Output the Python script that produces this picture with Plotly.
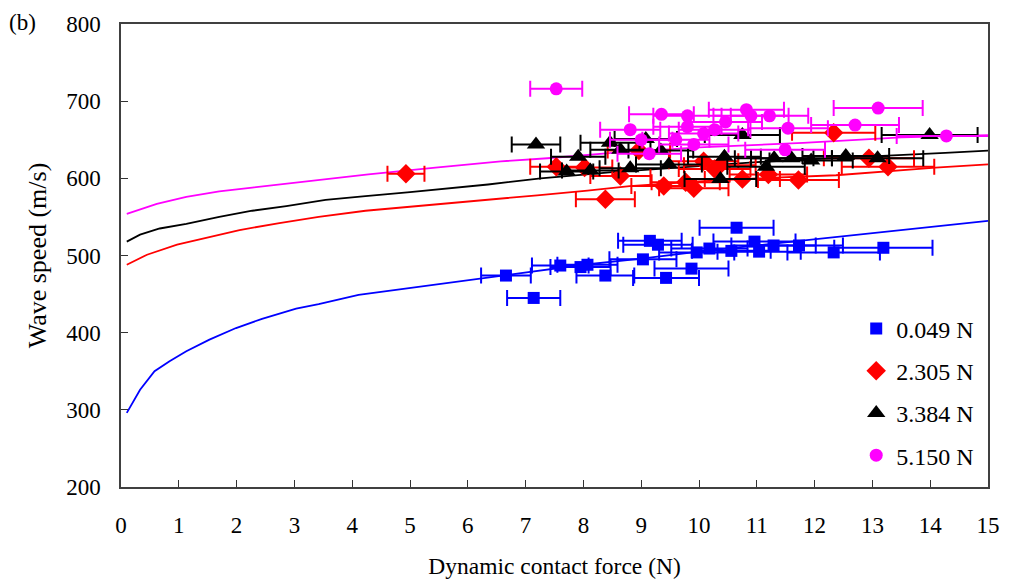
import plotly.graph_objects as go

# ---- measured data (F in N, v in m/s, horizontal error half-width in N) ----
blue_F = [6.66, 7.14, 7.60, 7.95, 8.07, 8.38, 9.15, 9.03, 9.29, 9.43, 9.87, 9.96, 10.18, 10.65, 10.56, 10.96, 11.04, 11.29, 11.73, 12.33, 13.19]
blue_v = [474, 445, 487, 485, 488, 474, 519, 495, 514, 471, 483, 504, 509, 536, 506, 518, 505, 513, 513, 504, 510]
blue_e = [0.43, 0.46, 0.49, 0.52, 0.52, 0.50, 0.55, 0.58, 0.60, 0.57, 0.64, 0.65, 0.66, 0.64, 0.68, 0.71, 0.72, 0.73, 0.76, 0.80, 0.85]

red_F = [4.93, 7.53, 8.02, 8.38, 8.64, 8.96, 9.39, 9.77, 9.91, 10.08, 10.27, 10.36, 10.75, 11.20, 11.72, 12.33, 12.94, 13.27]
red_v = [606, 615, 614, 573, 603, 636, 590, 595, 587, 622, 612, 617, 599, 605, 598, 659, 626, 615]
red_e = [0.32, 0.45, 0.48, 0.51, 0.52, 0.54, 0.56, 0.59, 0.60, 0.60, 0.62, 0.62, 0.65, 0.67, 0.70, 0.72, 0.78, 0.80]

black_F = [7.18, 7.91, 7.71, 8.12, 8.46, 8.64, 8.81, 9.08, 9.34, 9.48, 10.44, 10.37, 10.75, 11.16, 11.30, 11.60, 11.94, 12.54, 13.09, 13.99]
black_v = [644, 628, 609, 610, 646, 637, 613, 651, 636, 618, 628, 599, 656, 615, 626, 626, 623, 629, 626, 656]
black_e = [0.42, 0.47, 0.46, 0.49, 0.51, 0.52, 0.53, 0.54, 0.56, 0.57, 0.63, 0.62, 0.65, 0.67, 0.68, 0.70, 0.72, 0.75, 0.79, 0.83]

mag_F = [7.53, 9.35, 9.80, 8.81, 9.80, 9.00, 9.14, 9.60, 9.91, 10.08, 10.27, 10.46, 10.82, 10.90, 11.22, 11.54, 11.49, 12.70, 13.10, 14.28]
mag_v = [716, 683, 681, 663, 667, 650, 632, 650, 644, 658, 663, 673, 689, 681, 681, 665, 637, 669, 691, 655]
mag_e = [0.45, 0.56, 0.59, 0.52, 0.59, 0.54, 0.55, 0.58, 0.60, 0.60, 0.62, 0.63, 0.65, 0.65, 0.67, 0.69, 0.69, 0.76, 0.77, 0.86]

# ---- fitted curves ----
blue_cF = [0.1, 0.33, 0.58, 0.84, 1.13, 1.53, 1.99, 2.44, 3.03, 3.42, 4.11, 5, 6, 7, 8, 9, 10, 11, 12, 13, 14, 15]
blue_cv = [296, 326, 350, 363, 376, 391, 406, 418, 431, 437, 449, 458, 468, 478, 488, 496, 505, 513, 521, 529, 537, 545]
red_cF = [0.1, 0.45, 0.97, 1.48, 2.05, 2.74, 3.42, 4.23, 5, 6.35, 7.2, 8.07, 8.8, 10, 11, 12.37, 13.23, 14.09, 15]
red_cv = [488, 501, 514, 523, 533, 542, 550, 558, 563, 572, 578, 584, 590, 596, 600, 604, 609, 614, 618]
black_cF = [0.1, 0.33, 0.67, 1.13, 1.7, 2.27, 2.86, 3.54, 4.23, 5, 6.35, 7.26, 8.5, 10, 11, 12, 13.5, 14.26, 15]
black_cv = [518, 527, 535, 541, 550, 558, 564, 572, 577, 582, 592, 600, 608, 616, 621, 625, 630, 633, 636]
mag_cF = [0.1, 0.62, 1.13, 1.7, 2.27, 3.08, 4.28, 5.44, 6.57, 7.38, 8.5, 10, 11.8, 13.5, 15]
mag_cv = [554, 567, 576, 583, 588, 595, 605, 614, 622, 626, 633, 640, 646, 653, 656]

labels = ["0.049 N", "2.305 N", "3.384 N", "5.150 N"]
colors = ["#0000FF", "#FF0000", "#000000", "#FF00FF"]
symbols = ["square", "diamond", "triangle-up", "circle"]
sizes = [12, 15, 16, 13]

FONT = "Liberation Serif"

fig = go.Figure()

curves = [(blue_cF, blue_cv), (red_cF, red_cv), (black_cF, black_cv), (mag_cF, mag_cv)]
for (cx, cy), c in zip(curves, colors):
    fig.add_trace(go.Scatter(x=cx, y=cy, mode="lines", line=dict(color=c, width=1.8),
                             showlegend=False, hoverinfo="skip"))

pts = [(blue_F, blue_v, blue_e), (red_F, red_v, red_e), (black_F, black_v, black_e), (mag_F, mag_v, mag_e)]
for i, ((px, py, pe), c, s, sz, lab) in enumerate(zip(pts, colors, symbols, sizes, labels)):
    fig.add_trace(go.Scatter(
        x=px, y=py, mode="markers", name=lab, legendgroup=f"g{i}",
        marker=dict(color=c, symbol=s, size=sz, line=dict(width=0)),
        error_x=dict(type="data", array=pe, visible=True, color=c, thickness=2, width=8),
    ))

axis_common = dict(
    showgrid=False, zeroline=False, ticks="inside", ticklen=7, tickwidth=1,
    tickcolor="#333333", showline=True, linecolor="#404040", linewidth=1.5, mirror=True,
    tickfont=dict(family=FONT, size=23, color="#000000"),
)

fig.update_layout(
    width=1012, height=587,
    margin=dict(l=121, r=19, t=20, b=99),
    paper_bgcolor="white", plot_bgcolor="white",
    font=dict(family=FONT, color="#000000"),
    xaxis=dict(range=[0, 15], dtick=1, tick0=0, ticklabelstandoff=17,
               title=dict(text="Dynamic contact force (N)", font=dict(family=FONT, size=23.5), standoff=20),
               **axis_common),
    yaxis=dict(range=[200, 800], dtick=100, tick0=200, ticklabelstandoff=14,
               title=dict(text="Wave speed (m/s)", font=dict(family=FONT, size=26), standoff=12),
               **axis_common),
    legend=dict(x=0.848, y=0.39, xanchor="left", yanchor="top",
                bgcolor="rgba(0,0,0,0)", borderwidth=0,
                font=dict(family=FONT, size=24), tracegroupgap=8, itemwidth=30),
    annotations=[dict(text="(b)", x=0, y=1, xref="paper", yref="paper", xshift=-114, yshift=2,
                      xanchor="left", yanchor="middle", showarrow=False,
                      font=dict(family=FONT, size=23))],
)

fig.write_html("out.html")
